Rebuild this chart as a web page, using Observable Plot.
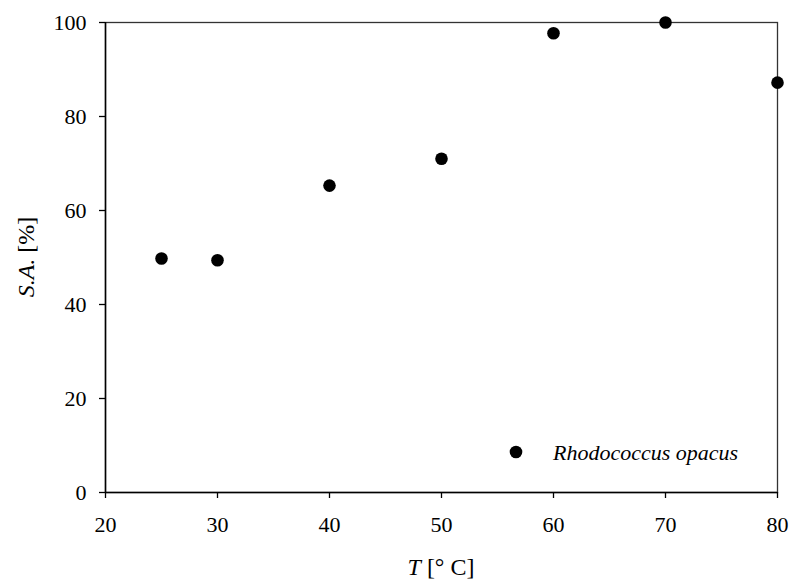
<!DOCTYPE html>
<html>
<head>
<meta charset="utf-8">
<script src="https://cdn.jsdelivr.net/npm/d3@7"></script>
<script src="https://cdn.jsdelivr.net/npm/@observablehq/plot@0.6"></script>
<style>
  html, body { margin: 0; padding: 0; background: #fff; }
  svg { display: block; }
</style>
</head>
<body>
<div id="chart"></div>
<script>
const temperatures = [25, 30, 40, 50, 60, 70, 80];
const saValues = [49.8, 49.4, 65.3, 71.0, 97.7, 100.0, 87.2];
const xTicks = [20, 30, 40, 50, 60, 70, 80];
const yTicks = [0, 20, 40, 60, 80, 100];
const seriesName = "Rhodococcus opacus";

const data = temperatures.map((t, i) => ({T: t, SA: saValues[i]}));

const W = 790, H = 580;
const mL = 105, mR = 13, mT = 22, mB = 88;
const FONT = "'Liberation Serif', 'Times New Roman', serif";
const FS = "22px";
const FS_TITLE = "24px";

const chart = Plot.plot({
  width: W,
  height: H,
  marginLeft: mL,
  marginRight: mR,
  marginTop: mT,
  marginBottom: mB,
  style: {fontFamily: FONT, fontSize: FS, color: "#000", background: "#fff", overflow: "visible"},
  x: {domain: [20, 80], ticks: xTicks, label: null},
  y: {domain: [0, 100], ticks: yTicks, label: null},
  marks: [
    Plot.frame({stroke: "#333", strokeWidth: 1.3}),
    Plot.axisX({ticks: xTicks, tickSize: 6, tickPadding: 18, label: null, stroke: "#000", strokeWidth: 1.3}),
    Plot.axisY({ticks: yTicks, tickSize: 6, tickPadding: 13, label: null, stroke: "#000", strokeWidth: 1.3}),
    Plot.ruleX([20], {stroke: "#000", strokeWidth: 1.5}),
    Plot.ruleY([0], {stroke: "#000", strokeWidth: 1.5}),
    Plot.dot(data, {x: "T", y: "SA", r: 6.3, fill: "#000", stroke: "none", clip: false})
  ]
});

document.getElementById("chart").appendChild(chart);

const svg = d3.select(chart);
svg.selectAll("text").style("font-size", FS).style("font-family", FONT).attr("fill", "#000");

const cx = mL + (W - mL - mR) / 2;
const cy = mT + (H - mT - mB) / 2;

// X axis label
const xl = svg.append("text")
  .attr("x", cx).attr("y", 575)
  .attr("text-anchor", "middle")
  .style("font-family", FONT).style("font-size", FS_TITLE).attr("fill", "#000");
xl.append("tspan").style("font-style", "italic").text("T");
xl.append("tspan").text(" [° C]");

// Y axis label
const yl = svg.append("text")
  .attr("transform", `translate(34,${cy}) rotate(-90)`)
  .attr("text-anchor", "middle")
  .style("font-family", FONT).style("font-size", FS_TITLE).attr("fill", "#000");
yl.append("tspan").style("font-style", "italic").text("S.A.");
yl.append("tspan").text(" [%]");

// Legend
const lg = svg.append("g").attr("transform", `translate(${W - mR - 261},${H - mB - 40})`);
lg.append("circle").attr("cx", 0).attr("cy", 0).attr("r", 6.3).attr("fill", "#000");
lg.append("text").attr("x", 37).attr("y", 8)
  .attr("text-anchor", "start")
  .style("font-family", FONT).style("font-size", FS).style("font-style", "italic")
  .attr("fill", "#000").text(seriesName);
</script>
</body>
</html>
